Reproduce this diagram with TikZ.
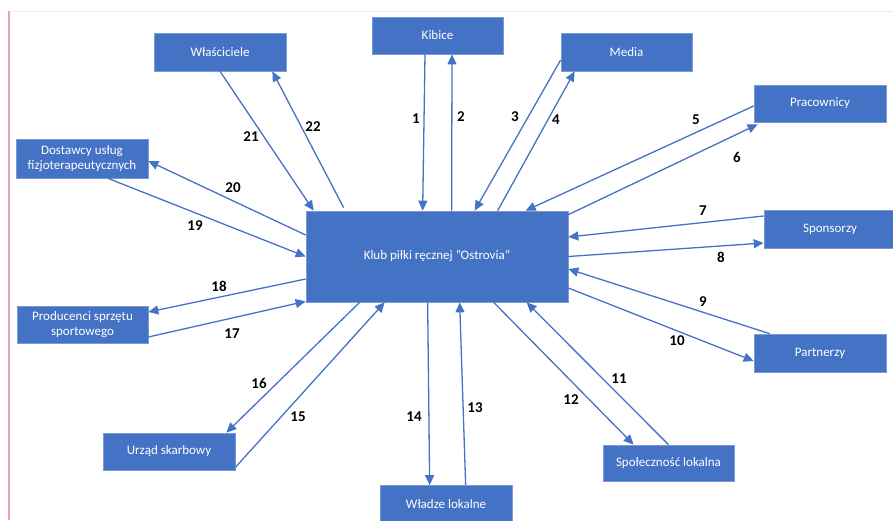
\documentclass[tikz,border=0pt]{standalone}
\usepackage{fontspec}
\setmainfont{Carlito}
\usetikzlibrary{arrows.meta}
\definecolor{officeblue}{HTML}{4472C4}
\definecolor{boxedge}{HTML}{7A9AD6}
\definecolor{pinkline}{HTML}{E8A2B2}
\definecolor{pinkfaint}{HTML}{F9E4E8}
\begin{document}
\begin{tikzpicture}[x=1pt,y=-1pt,
  entity/.style={rectangle, fill=officeblue, draw=boxedge, line width=0.7pt,
    minimum width=132pt, minimum height=37pt, inner sep=0pt, text=white,
    font=\fontsize{13}{15}\selectfont, align=center},
  flow/.style={draw=officeblue, line width=1.3pt, -{Triangle[length=10pt,width=9pt]}},
  num/.style={font=\fontsize{15}{17}\selectfont\bfseries, text=black, inner sep=0pt}]
\useasboundingbox (0,0) rectangle (893,520);
% page frame lines
\draw[pinkfaint, line width=1pt] (9,11) -- (893,11);
\draw[pinkline, line width=1.5pt] (9,11) -- (9,520);

% boxes
\node[entity, minimum width=262pt, minimum height=91pt] (klub) at (437,256.5) {Klub piłki ręcznej \symbol{34}Ostrovia\symbol{34}};
\node[entity, minimum height=38pt] (wla) at (220,52) {Właściciele};
\node[entity, minimum width=131pt] (kib) at (437.5,35.5) {Kibice};
\node[entity, minimum width=131pt, minimum height=38pt] (med) at (626.5,52) {Media};
\node[entity] (pra) at (820,103.5) {Pracownicy};
\node[entity, minimum height=39pt] (dos) at (82,158.5) {Dostawcy usług\\fizjoterapeutycznych};
\node[entity, minimum height=38pt] (spo) at (830,229) {Sponsorzy};
\node[entity, minimum height=38pt] (par) at (820,353) {Partnerzy};
\node[entity, minimum width=131pt] (pro) at (82.5,324.5) {Producenci sprzętu\\sportowego};
\node[entity] (urz) at (169,451.5) {Urząd skarbowy};
\node[entity] (wl) at (446,504) {Władze lokalne};
\node[entity, minimum width=131pt, minimum height=36pt] (spol) at (668.5,463) {Społeczność lokalna};

% connectors
\draw[flow] ([xshift=-12.5pt]kib.south) -- ([xshift=117pt]klub.north west);   % 1
\draw[flow] ([xshift=146pt]klub.north west) -- ([xshift=14.5pt]kib.south);    % 2
\draw[flow] ([yshift=-8pt]med.west) -- ([xshift=169pt]klub.north west);       % 3
\draw[flow] ([xshift=192pt]klub.north west) -- ([xshift=14pt]med.south west); % 4
\draw[flow] ([yshift=-2.5pt]pra.west) -- ([xshift=220pt]klub.north west);     % 5
\draw[flow] ([yshift=-4pt]klub.north east) -- ([xshift=4pt,yshift=-2pt]pra.south west); % 6
\draw[flow] ([yshift=13pt]spo.west) -- ([yshift=19.5pt]klub.east);           % 7
\draw[flow] (klub.east) -- ([yshift=-14pt]spo.west);                         % 8
\draw[flow] ([xshift=16pt]par.north west) -- ([yshift=-12.5pt]klub.east);    % 9
\draw[flow] ([yshift=-31.5pt]klub.east) -- ([yshift=-8pt]par.west);          % 10
\draw[flow] (spol.north) -- ([xshift=221pt]klub.south west);                 % 11
\draw[flow] ([xshift=188pt]klub.south west) -- ([xshift=31pt]spol.north west); % 12
\draw[flow] ([xshift=86pt]wl.north west) -- ([xshift=154pt]klub.south west);  % 13
\draw[flow] ([xshift=122pt]klub.south west) -- ([xshift=50pt]wl.north west);  % 14
\draw[flow] ([yshift=3pt]urz.south east) -- ([xshift=79pt]klub.south west);   % 15
\draw[flow] ([xshift=54pt]klub.south west) -- ([xshift=-9pt]urz.north east);  % 16
\draw[flow] ([yshift=-12.5pt]pro.east) -- ([yshift=1pt]klub.south west);      % 17
\draw[flow] ([yshift=-22.5pt]klub.west) -- ([yshift=12.5pt]pro.east);         % 18
\draw[flow] ([xshift=26pt]dos.south) -- (klub.west);                          % 19
\draw[flow] ([yshift=21.5pt]klub.west) -- ([yshift=-2.5pt]dos.east);          % 20
\draw[flow] (wla.south) -- ([xshift=8pt]klub.north west);                     % 21
\draw[flow] ([xshift=38pt,yshift=3pt]klub.north west) -- ([xshift=-14pt]wla.south east); % 22

% labels
\node[num] (l1) at (416,119) {1};
\node[num] (l2) at (461,117) {2};
\node[num] (l3) at (515,117) {3};
\node[num] (l4) at (556,120) {4};
\node[num] (l5) at (696,120) {5};
\node[num] (l6) at (737,157) {6};
\node[num] (l7) at (703,211) {7};
\node[num] (l8) at (721,257) {8};
\node[num] (l9) at (703,302) {9};
\node[num] (l10) at (677,341) {10};
\node[num] (l11) at (619,379) {11};
\node[num] (l12) at (571,400) {12};
\node[num] (l13) at (475,408) {13};
\node[num] (l14) at (414,417) {14};
\node[num] (l15) at (298,417) {15};
\node[num] (l16) at (259,383) {16};
\node[num] (l17) at (232,334) {17};
\node[num] (l18) at (219,286) {18};
\node[num] (l19) at (195,226) {19};
\node[num] (l20) at (233,188) {20};
\node[num] (l21) at (251,137) {21};
\node[num] (l22) at (313,127) {22};
\end{tikzpicture}
\end{document}
